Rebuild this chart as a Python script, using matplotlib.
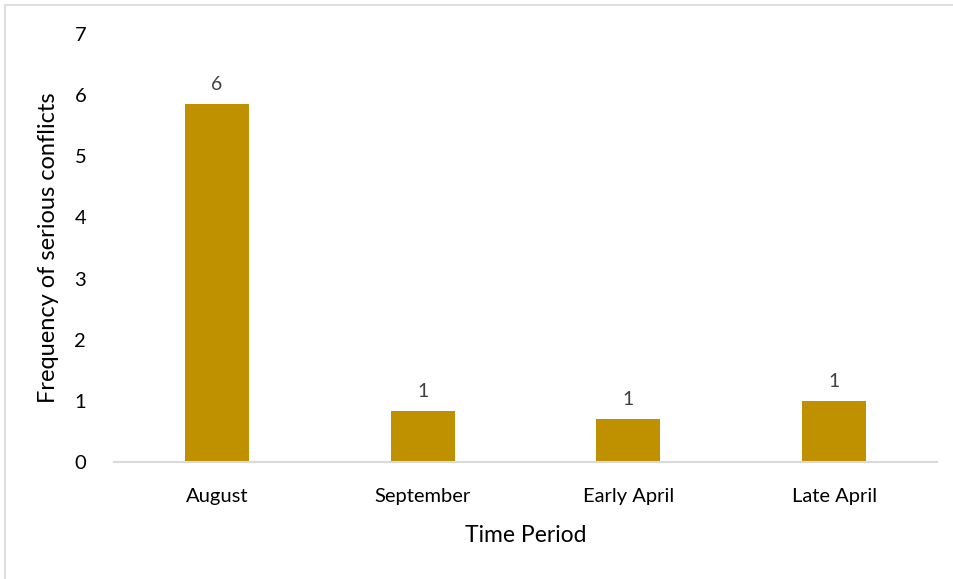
import matplotlib.pyplot as plt
from matplotlib.patches import Rectangle

# data
periods = ['August', 'September', 'Early April', 'Late April']
conflicts = [5.86, 0.84, 0.71, 1.0]
yticks = [0, 1, 2, 3, 4, 5, 6, 7]

plt.rcParams['font.family'] = ['Lato', 'DejaVu Sans']

W, H = 954, 579
fig = plt.figure(figsize=(W / 100, H / 100), dpi=100)
ax = fig.add_axes([114 / W, (H - 462) / H, (937 - 114) / W, (462 - 34) / H])

bars = ax.bar(periods, conflicts, width=0.31, color='#BF9000')
ax.set_xlim(-0.5, 3.5)
ax.set_ylim(0, 7)
ax.set_yticks(yticks)

# value labels above each bar
for b, v in zip(bars, conflicts):
    ax.text(b.get_x() + b.get_width() / 2, v + 0.17, f'{v:.0f}',
            ha='center', va='bottom', fontsize=14, color='#404040')

for s in ['top', 'right', 'left']:
    ax.spines[s].set_visible(False)
ax.spines['bottom'].set_color('#D9D9D9')
ax.spines['bottom'].set_linewidth(1.5)
ax.tick_params(axis='both', length=0, labelsize=14.5, colors='black')
ax.tick_params(axis='y', pad=20)
ax.tick_params(axis='x', pad=19)

ax.set_xlabel('Time Period', fontsize=16.5, labelpad=14)
ax.set_ylabel('Frequency of serious conflicts', fontsize=17, labelpad=11)

# thin outer chart border
fig.patches.append(Rectangle((5 / W, -0.1), 1.2, (H - 5) / H + 0.1,
                             transform=fig.transFigure, fill=False,
                             edgecolor='#D9D9D9', linewidth=1.2))

fig.savefig('out.png', dpi=100)
